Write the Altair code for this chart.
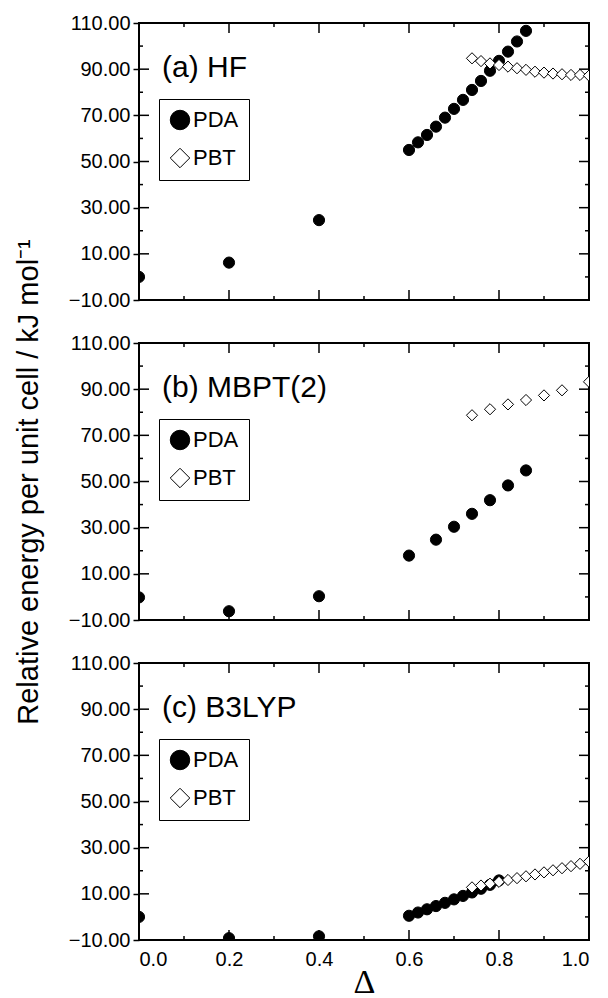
import altair as alt
import pandas as pd

# ---------------- data ----------------
a_pda_x = [0.0, 0.2, 0.4, 0.60, 0.62, 0.64, 0.66, 0.68, 0.70, 0.72, 0.74, 0.76, 0.78, 0.80, 0.82, 0.84, 0.86]
a_pda_y = [0.0, 6.2, 24.6, 55.0, 58.3, 61.5, 65.1, 69.0, 72.8, 76.7, 81.0, 84.9, 89.3, 93.6, 97.6, 102.0, 106.6]
a_pbt_x = [0.74, 0.76, 0.78, 0.80, 0.82, 0.84, 0.86, 0.88, 0.90, 0.92, 0.94, 0.96, 0.98, 1.00]
a_pbt_y = [94.7, 93.5, 92.5, 91.8, 91.1, 90.4, 89.7, 88.9, 88.5, 88.1, 87.8, 87.5, 87.5, 87.2]

b_pda_x = [0.0, 0.2, 0.4, 0.60, 0.66, 0.70, 0.74, 0.78, 0.82, 0.86]
b_pda_y = [-0.2, -6.2, 0.3, 17.9, 24.8, 30.4, 36.0, 41.9, 48.3, 54.8]
b_pbt_x = [0.74, 0.78, 0.82, 0.86, 0.90, 0.94, 1.00]
b_pbt_y = [78.7, 81.3, 83.4, 85.3, 87.3, 89.5, 93.2]

c_pda_x = [0.0, 0.2, 0.4, 0.60, 0.62, 0.64, 0.66, 0.68, 0.70, 0.72, 0.74, 0.76, 0.78, 0.80]
c_pda_y = [0.0, -9.2, -8.4, 0.5, 1.9, 3.3, 4.7, 6.1, 7.6, 9.1, 10.6, 12.2, 13.9, 15.8]
c_pbt_x = [0.74, 0.76, 0.78, 0.80, 0.82, 0.84, 0.86, 0.88, 0.90, 0.92, 0.94, 0.96, 0.98, 1.00]
c_pbt_y = [12.8, 13.6, 14.4, 15.2, 16.0, 16.8, 17.6, 18.4, 19.3, 20.2, 21.1, 22.0, 23.0, 24.0]

panel_labels = ["(a) HF", "(b) MBPT(2)", "(c) B3LYP"]
series_names = ["PDA", "PBT"]
y_title = "Relative energy per unit cell / kJ mol⁻¹"
x_title = "Δ"

y_major = [-10, 10, 30, 50, 70, 90, 110]
y_minor = [0, 20, 40, 60, 80, 100]
x_major = [0.0, 0.2, 0.4, 0.6, 0.8, 1.0]
x_minor = [0.1, 0.3, 0.5, 0.7, 0.9]

# ---------------- styling ----------------
W, H = 450, 277
FONT = "Liberation Sans"
MAJ, MIN = 10, 4

xscale = alt.Scale(domain=[0, 1], nice=False, zero=False)
yscale = alt.Scale(domain=[-10, 110], nice=False, zero=False)


def make_axes(bottom, show_ytitle):
    if bottom:
        xaxis = alt.Axis(
            values=x_major, format=".1f", title=x_title, ticks=False, tickSize=0,
            domain=False, grid=False, labelPadding=9, labelFontSize=20,
            titleFontSize=34, titlePadding=-4, titleFont="Liberation Serif")
    else:
        xaxis = None
    yaxis = alt.Axis(values=y_major, format=".2f", domain=False, grid=False,
                     ticks=True, tickSize=6, tickWidth=1.5, tickColor="black",
                     labelPadding=3, labelFontSize=20,
                     title=y_title if show_ytitle else None,
                     titleFontSize=29, titlePadding=25)
    return xaxis, yaxis


def tick_layers(xaxis, yaxis):
    ym = pd.DataFrame({"v": y_major})
    yn = pd.DataFrame({"v": y_minor})
    xm = pd.DataFrame({"v": x_major})
    xn = pd.DataFrame({"v": x_minor})
    layers = []
    for df, ln in ((ym, MAJ), (yn, MIN)):
        base = alt.Chart(df).mark_rule(color="black", strokeWidth=1.5)
        yy = alt.Y("v:Q", scale=yscale, axis=yaxis)
        layers.append(base.encode(y=yy, x=alt.value(0), x2=alt.value(ln)))
        layers.append(base.encode(y=yy, x=alt.value(W), x2=alt.value(W - ln)))
    for df, ln in ((xm, MAJ), (xn, MIN)):
        base = alt.Chart(df).mark_rule(color="black", strokeWidth=1.5)
        xx = alt.X("v:Q", scale=xscale, axis=xaxis)
        layers.append(base.encode(x=xx, y=alt.value(H), y2=alt.value(H - ln)))
        layers.append(base.encode(x=xx, y=alt.value(0), y2=alt.value(ln)))
    return layers


def panel(label, pda_x, pda_y, pbt_x, pbt_y, bottom, show_ytitle):
    df = pd.DataFrame({
        "x": pda_x + pbt_x,
        "y": pda_y + pbt_y,
        "series": [series_names[0]] * len(pda_x) + [series_names[1]] * len(pbt_x),
    })
    xaxis, yaxis = make_axes(bottom, show_ytitle)
    leg = alt.Legend(title=None, orient="none", legendX=20, legendY=76,
                     fillColor="white", strokeColor="black", padding=10,
                     symbolSize=380, symbolStrokeColor="black", symbolStrokeWidth=1,
                     labelFontSize=22, labelFont=FONT, labelColor="black",
                     rowPadding=14, labelOffset=2)
    pts = alt.Chart(df).mark_point(size=125, opacity=1, strokeWidth=1,
                                   clip=True).encode(
        x=alt.X("x:Q", scale=xscale, axis=xaxis),
        y=alt.Y("y:Q", scale=yscale, axis=yaxis),
        shape=alt.Shape("series:N", scale=alt.Scale(domain=series_names,
                                                    range=["circle", "diamond"]),
                        legend=leg),
        fill=alt.Fill("series:N", scale=alt.Scale(domain=series_names,
                                                  range=["black", "white"]),
                      legend=leg),
        stroke=alt.Stroke("series:N", scale=alt.Scale(domain=series_names,
                                                      range=["black", "black"]),
                          legend=leg),
        order=alt.Order("series:N", sort="descending"),
    )
    txt = alt.Chart(pd.DataFrame({"t": [label]})).mark_text(
        align="left", baseline="alphabetic", fontSize=30, font=FONT, color="black"
    ).encode(text="t:N", x=alt.value(23), y=alt.value(54))
    return alt.layer(pts, *tick_layers(xaxis, yaxis), txt).properties(width=W, height=H)


pa = panel(panel_labels[0], a_pda_x, a_pda_y, a_pbt_x, a_pbt_y, False, False)
pb = panel(panel_labels[1], b_pda_x, b_pda_y, b_pbt_x, b_pbt_y, False, True)
pc = panel(panel_labels[2], c_pda_x, c_pda_y, c_pbt_x, c_pbt_y, True, False)

chart = alt.vconcat(pa, pb, pc, spacing=43, bounds="flush").resolve_scale(
    shape="independent", fill="independent", stroke="independent"
).properties(
    padding={"left": 5, "top": 4, "right": 0, "bottom": 0},
    background="white",
).configure_view(
    stroke="black", strokeWidth=2
).configure_axis(
    labelFont=FONT, titleFont=FONT, labelColor="black", titleColor="black",
    titleFontWeight="normal"
)

chart.save("out.html", embed_options={"renderer": "svg", "actions": False})
